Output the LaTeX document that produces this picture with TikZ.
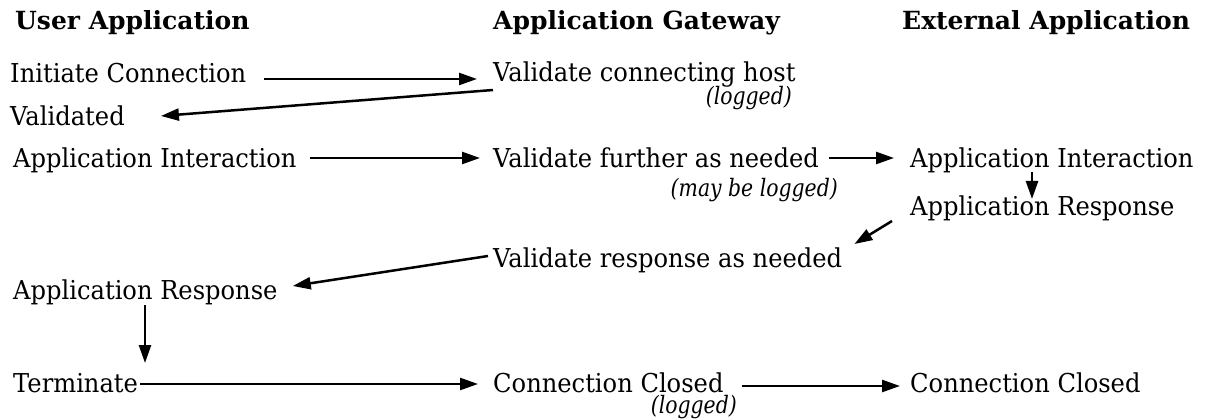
\documentclass[tikz,border=0pt]{standalone}
\usepackage{fontspec}
\setmainfont{DejaVu Serif}[FakeStretch=0.93]
\newfontfamily\headfont{DejaVu Serif}[FakeStretch=1.0]
\newfontfamily\notefont{DejaVu Serif}[FakeStretch=0.85]
\usetikzlibrary{arrows.meta}
\begin{document}
\begin{tikzpicture}[x=1pt,y=-1pt,
  txt/.style={inner sep=0pt, anchor=base west, font=\fontsize{26}{30}\selectfont},
  hdr/.style={inner sep=0pt, anchor=base west, font=\headfont\fontsize{25}{29}\selectfont\bfseries},
  note/.style={inner sep=0pt, anchor=base east, font=\notefont\fontsize{24}{28}\selectfont\itshape},
  arr/.style={-{Triangle[length=18pt,width=12pt]}, line width=2.5pt}]
\useasboundingbox (0,0) rectangle (1212,419);

% column headings
\node[hdr] (hU) at (15,30)  {User Application};
\node[hdr] (hG) at (493,30) {Application Gateway};
\node[hdr] (hE) at (902,30) {External Application};

% steps of the exchange
\node[txt]  (ic)   at (10,83)   {Initiate Connection};
\node[txt]  (vch)  at (493,82)  {Validate connecting host};
\node[note] (lg1)  at (792,105) {(logged)};
\node[txt]  (val)  at (10,126)  {Validated};
\node[txt]  (aiL)  at (13,168)  {Application Interaction};
\node[txt]  (vf)   at (493,168) {Validate further as needed};
\node[note] (ml)   at (838,197) {(may be logged)};
\node[txt]  (aiR)  at (910,168) {Application Interaction};
\node[txt]  (arR)  at (910,216) {Application Response};
\node[txt]  (vr)   at (493,268) {Validate response as needed};
\node[txt]  (arL)  at (13,300)  {Application Response};
\node[txt]  (term) at (13,392)  {Terminate};
\node[txt]  (ccM)  at (493,392) {Connection Closed};
\node[note] (lg2)  at (737,413) {(logged)};
\node[txt]  (ccR)  at (910,392) {Connection Closed};

% message flow
\draw[arr] ([xshift=18pt,yshift=4pt]ic.base east) -- ([xshift=-16pt,yshift=3pt]vch.base west);
\draw[arr] ([yshift=-8pt]vch.base west) -- ([xshift=36pt,yshift=10pt]val.base east);
\draw[arr] ([xshift=13pt,yshift=10pt]aiL.base east) -- ([xshift=-13pt,yshift=10pt]vf.base west);
\draw[arr] ([xshift=10pt,yshift=10pt]vf.base east) -- ([xshift=-16pt,yshift=10pt]aiR.base west);
\draw[arr] ([xshift=122pt,yshift=-4pt]aiR.base west) -- ([xshift=122pt,yshift=17pt]arR.base west);
\draw[arr] ([xshift=-18pt,yshift=-5pt]arR.base west) -- ([xshift=12pt,yshift=24pt]vr.base east);
\draw[arr] ([xshift=-5pt,yshift=12pt]vr.base west) -- ([xshift=15pt,yshift=14pt]arL.base east);
\draw[arr] ([xshift=132pt,yshift=-5pt]arL.base west) -- ([xshift=132pt,yshift=29pt]term.base west);
\draw[arr] ([xshift=2pt,yshift=8pt]term.base east) -- ([xshift=-15pt,yshift=8pt]ccM.base west);
\draw[arr] ([xshift=18pt,yshift=6pt]ccM.base east) -- ([xshift=-10pt,yshift=6pt]ccR.base west);
\end{tikzpicture}
\end{document}
